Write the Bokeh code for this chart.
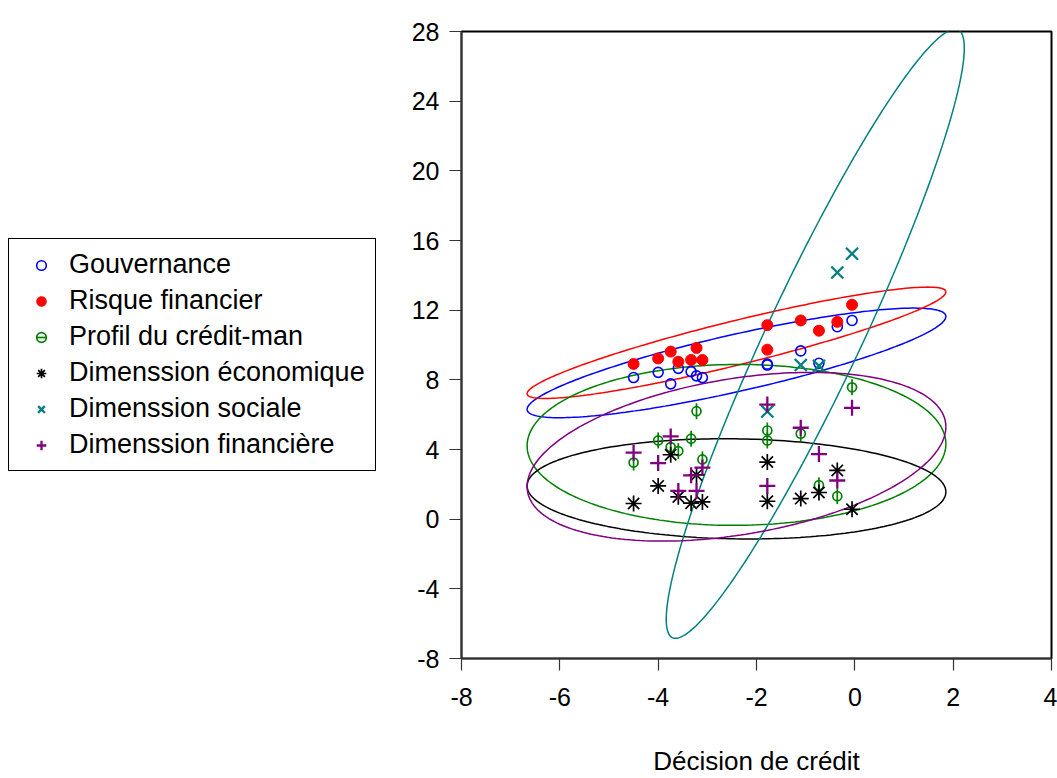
import numpy as np
from bokeh.plotting import figure
from bokeh.layouts import row
from bokeh.models import Range1d, FixedTicker, Legend, LegendItem
from bokeh.embed import file_html
from bokeh.resources import INLINE

# ---- data ----
decision = [-4.50, -4.00, -3.745, -3.59, -3.33, -3.22, -3.10, -1.78, -1.78, -1.10, -0.73, -0.357, -0.057]
gouvernance = [8.13, 8.43, 7.77, 8.66, 8.47, 8.23, 8.13, 8.90, 8.85, 9.66, 8.95, 11.05, 11.41]
risque_financier = [8.91, 9.23, 9.62, 9.04, 9.14, 9.83, 9.14, 11.14, 9.73, 11.41, 10.82, 11.33, 12.31]
profil_credit_man = [3.25, 4.52, 4.14, 3.91, 4.62, 6.20, 3.43, 5.09, 4.52, 4.91, 1.95, 1.32, 7.57]
dim_economique = [0.90, 1.91, 3.70, 1.28, 0.92, 2.54, 0.99, 3.28, 1.03, 1.18, 1.53, 2.80, 0.57]
dim_sociale = [None, None, None, None, None, None, None, 6.18, None, 8.85, 8.80, 14.16, 15.24]
dim_financiere = [3.82, 3.22, 4.75, 1.62, 2.52, 1.62, 2.96, 6.58, 1.91, 5.25, 3.74, 2.22, 6.39]

series_names = ["Gouvernance", "Risque financier", "Profil du crédit-man",
                "Dimenssion économique", "Dimenssion sociale", "Dimenssion financière"]
x_ticks = [-8, -6, -4, -2, 0, 2, 4]
y_ticks = [-8, -4, 0, 4, 8, 12, 16, 20, 24, 28]
x_label = "Décision de crédit"

FONT = "Liberation Sans"
colors = ["#0000FF", "#FF0000", "#008000", "#000000", "#008080", "#800080"]
all_series = [gouvernance, risque_financier, profil_credit_man, dim_economique, dim_sociale, dim_financiere]


def conf_ellipse(xs, ys, level=0.95, npts=240):
    x = np.asarray(xs, dtype=float)
    y = np.array([np.nan if v is None else v for v in ys], dtype=float)
    m = ~np.isnan(y)
    x, y = x[m], y[m]
    n = len(x)
    dfd = n - 2
    f = dfd / 2.0 * ((1 - level) ** (-2.0 / dfd) - 1)   # F(2, n-2) quantile
    k = np.sqrt(2.0 * (n - 1) / (n - 2) * f)
    cov = np.cov(x, y, bias=True)
    L = np.linalg.cholesky(cov)
    t = np.linspace(0, 2 * np.pi, npts)
    pts = k * (L @ np.vstack([np.cos(t), np.sin(t)]))
    return x.mean() + pts[0], y.mean() + pts[1]


def clean(xs, ys):
    px, py = [], []
    for a, b in zip(xs, ys):
        if b is not None:
            px.append(a)
            py.append(b)
    return px, py


def add_markers(fig):
    items = []
    x0, y0 = clean(decision, gouvernance)
    r = fig.scatter(x0, y0, marker="circle", size=10, fill_color=None, line_color=colors[0], line_width=1.6)
    items.append(LegendItem(label=series_names[0], renderers=[r]))
    x1, y1 = clean(decision, risque_financier)
    r = fig.scatter(x1, y1, marker="circle", size=11, fill_color=colors[1], line_color=colors[1])
    items.append(LegendItem(label=series_names[1], renderers=[r]))
    x2, y2 = clean(decision, profil_credit_man)
    ra = fig.scatter(x2, y2, marker="circle", size=9, fill_color=None, line_color=colors[2], line_width=1.7)
    rb = fig.scatter(x2, y2, marker="dash", angle=np.pi / 2, size=16, line_color=colors[2], line_width=1.7)
    items.append(LegendItem(label=series_names[2], renderers=[ra, rb]))
    x3, y3 = clean(decision, dim_economique)
    r = fig.scatter(x3, y3, marker="asterisk", size=16, line_color=colors[3], line_width=1.7)
    items.append(LegendItem(label=series_names[3], renderers=[r]))
    x4, y4 = clean(decision, dim_sociale)
    r = fig.scatter(x4, y4, marker="x", size=17, line_color=colors[4], line_width=2.3)
    items.append(LegendItem(label=series_names[4], renderers=[r]))
    x5, y5 = clean(decision, dim_financiere)
    r = fig.scatter(x5, y5, marker="cross", size=16, line_color=colors[5], line_width=2.3)
    items.append(LegendItem(label=series_names[5], renderers=[r]))
    return items


# ---------------- main plot ----------------
p = figure(width=657, height=778, x_range=Range1d(-8, 4), y_range=Range1d(-8, 28),
           output_backend="svg", toolbar_location=None,
           min_border_left=61, min_border_right=6, min_border_top=31, min_border_bottom=119)
p.xgrid.visible = False
p.ygrid.visible = False
p.outline_line_color = "black"
p.outline_line_width = 2

for ax in (p.xaxis[0], p.yaxis[0]):
    ax.major_label_text_font = FONT
    ax.major_label_text_font_size = "25px"
    ax.major_label_text_color = "black"
    ax.axis_line_color = "#333333"
    ax.axis_line_width = 1.5
    ax.major_tick_line_color = "#333333"
    ax.major_tick_line_width = 1.2
    ax.major_tick_out = 12
    ax.major_tick_in = 0
    ax.minor_tick_out = 0
    ax.minor_tick_in = 0
    ax.major_label_standoff = 10

p.xaxis.major_label_standoff = 17
p.xaxis.ticker = FixedTicker(ticks=x_ticks)
p.yaxis.ticker = FixedTicker(ticks=y_ticks)
p.xaxis.major_label_overrides = {t: str(t) for t in x_ticks}
p.yaxis.major_label_overrides = {t: str(t) for t in y_ticks}
p.xaxis.axis_label = x_label
p.xaxis.axis_label_text_font = FONT
p.xaxis.axis_label_text_font_size = "26px"
p.xaxis.axis_label_text_font_style = "normal"
p.xaxis.axis_label_text_color = "black"
p.xaxis.axis_label_standoff = 37

for ys, c in zip(all_series, colors):
    ex, ey = conf_ellipse(decision, ys)
    p.line(ex, ey, line_color=c, line_width=1.5)

add_markers(p)

# ---------------- legend panel (left) ----------------
# same renderers, drawn outside this panel's visible range: only the legend shows
lg = figure(width=400, height=778, x_range=Range1d(100, 101), y_range=Range1d(100, 101),
            output_backend="svg", toolbar_location=None,
            x_axis_location=None, y_axis_location=None,
            min_border_left=0, min_border_right=0, min_border_top=0, min_border_bottom=0)
lg.xgrid.visible = False
lg.ygrid.visible = False
lg.outline_line_color = None
items = add_markers(lg)

legend = Legend(items=items, location=(8, 187),
                label_text_font=FONT, label_text_font_size="27px", label_text_color="black",
                glyph_width=44, glyph_height=24, label_height=30, spacing=5,
                padding=10, label_standoff=6, margin=0,
                border_line_color="black", border_line_alpha=1, border_line_width=1.2,
                background_fill_color="white", background_fill_alpha=1)
lg.add_layout(legend)

layout = row(lg, p, spacing=0)
open("out.html", "w").write(file_html(layout, INLINE))
